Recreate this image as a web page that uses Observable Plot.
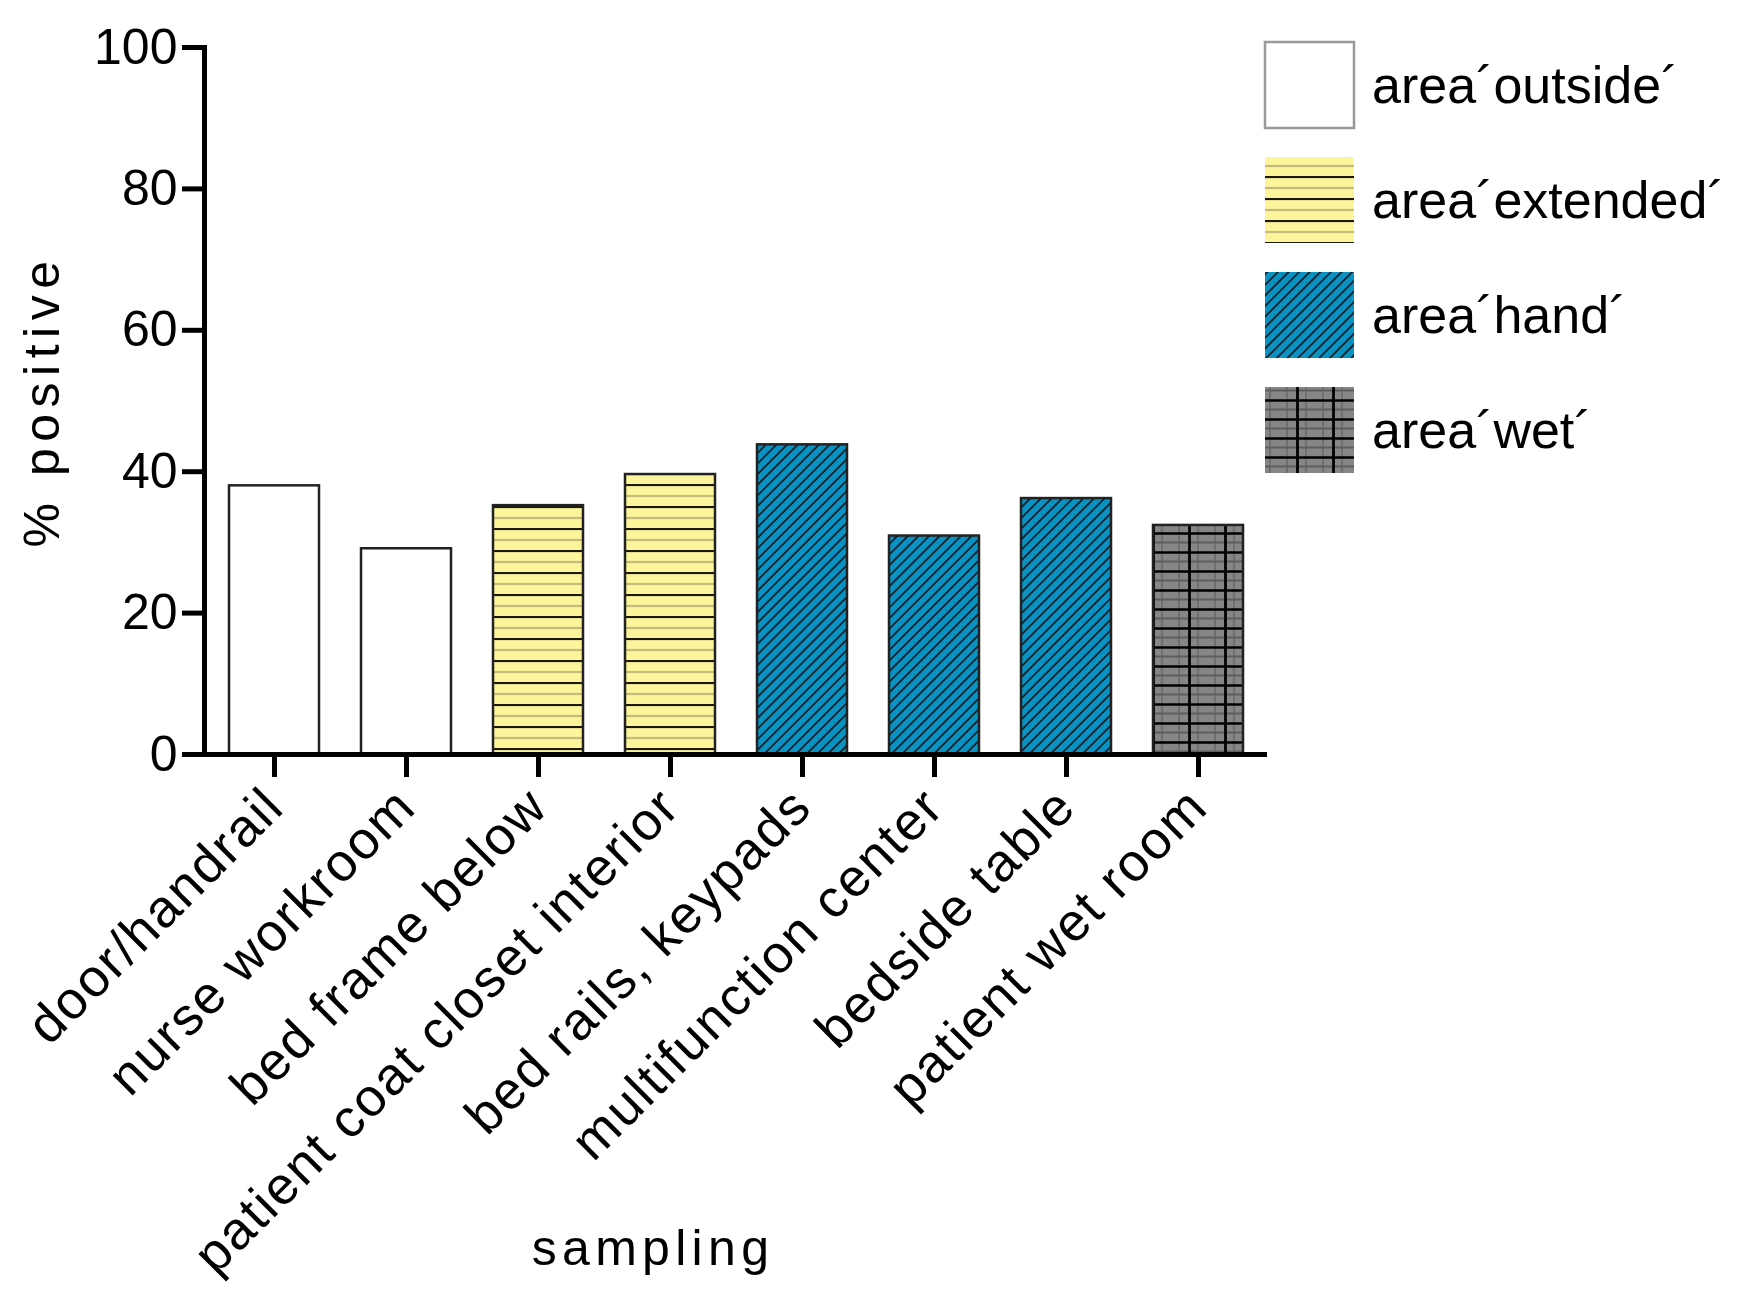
<!DOCTYPE html>
<html>
<head>
<meta charset="utf-8">
<script src="https://cdn.jsdelivr.net/npm/d3@7"></script>
<script src="https://cdn.jsdelivr.net/npm/@observablehq/plot@0.6"></script>
<style>
  html, body { margin: 0; padding: 0; background: #fff; }
  #chart { width: 1747px; height: 1308px; }
</style>
</head>
<body>
<div id="chart"></div>
<script>
// ---- data ----
const categories = [
  "door/handrail",
  "nurse workroom",
  "bed frame below",
  "patient coat closet interior",
  "bed rails, keypads",
  "multifunction center",
  "bedside table",
  "patient wet room"
];
const values = [38.0, 29.1, 35.2, 39.6, 43.8, 30.9, 36.2, 32.4];
const groups = ["outside", "outside", "extended", "extended", "hand", "hand", "hand", "wet"];
const groupNames = ["outside", "extended", "hand", "wet"];
const legendLabels = ["area´outside´", "area´extended´", "area´hand´", "area´wet´"];
const yTicks = [0, 20, 40, 60, 80, 100];
const yLabel = "% positive";
const xLabel = "sampling";

const patternIds = groupNames.map(g => "pat-" + g);
const data = categories.map((c, i) => ({category: c, value: values[i], group: groups[i]}));

const W = 1747, H = 1308;
const font = "'Liberation Sans', Arial, Helvetica, sans-serif";

const plot = Plot.plot({
  width: W,
  height: H,
  marginLeft: 204,
  marginRight: 480,
  marginTop: 47,
  marginBottom: 554,
  style: {fontFamily: font, fontSize: "50px", color: "#000", background: "#fff"},
  x: {domain: categories, paddingInner: 0.32, paddingOuter: 0.18, label: null},
  y: {domain: [0, 100], label: null},
  color: {domain: groupNames, range: patternIds.map(id => `url(#${id})`)},
  marks: [
    Plot.barY(data, {x: "category", y: "value", fill: "group", stroke: "#222", strokeWidth: 2.5}),
    Plot.ruleY([0], {stroke: "#000", strokeWidth: 5}),
    Plot.frame({anchor: "left", stroke: "#000", strokeWidth: 5}),
    Plot.axisY({ticks: yTicks, tickSize: 22, tickPadding: 5, strokeWidth: 5, fontSize: 50, label: null}),
    Plot.axisX({tickSize: 23, tickPadding: 20, strokeWidth: 5, tickRotate: -45, fontSize: 53, label: null}),
    Plot.text([yLabel], {frameAnchor: "left", textAnchor: "middle", dx: -162, rotate: -90, fontSize: 50, text: d => d}),
    Plot.text([xLabel], {frameAnchor: "bottom", textAnchor: "middle", dx: -83, dy: 510, fontSize: 50, text: d => d})
  ]
});

const svg = d3.select(plot);
// letter spacing for axis titles and x tick labels
svg.selectAll("text").each(function () {
  const t = this.textContent;
  if (t === yLabel) d3.select(this).style("letter-spacing", "6.5px");
  else if (t === xLabel) d3.select(this).style("letter-spacing", "5.3px");
  else if (categories.includes(t)) d3.select(this).style("letter-spacing", "2px");
});

// ---- pattern definitions ----
const defs = svg.insert("defs", ":first-child");
// outside: plain white
const pOut = defs.append("pattern").attr("id", "pat-outside").attr("patternUnits", "userSpaceOnUse")
  .attr("width", 10).attr("height", 10);
pOut.append("rect").attr("width", 10).attr("height", 10).attr("fill", "#fff");

// extended: pale yellow with horizontal lines
const pExt = defs.append("pattern").attr("id", "pat-extended").attr("patternUnits", "userSpaceOnUse")
  .attr("width", 20).attr("height", 22);
pExt.append("rect").attr("width", 20).attr("height", 22).attr("fill", "#fdf59c");
pExt.append("line").attr("x1", 0).attr("x2", 20).attr("y1", 1).attr("y2", 1).attr("stroke", "#1a1a10").attr("stroke-width", 2.2);
pExt.append("line").attr("x1", 0).attr("x2", 20).attr("y1", 12).attr("y2", 12).attr("stroke", "#c4bb7c").attr("stroke-width", 2.2);

// hand: blue with diagonal lines
const pHand = defs.append("pattern").attr("id", "pat-hand").attr("patternUnits", "userSpaceOnUse")
  .attr("width", 7.5).attr("height", 7.5).attr("patternTransform", "rotate(45)");
pHand.append("rect").attr("width", 7.5).attr("height", 7.5).attr("fill", "#0a92c2");
pHand.append("line").attr("x1", 1).attr("x2", 1).attr("y1", 0).attr("y2", 7.5).attr("stroke", "#0b1a22").attr("stroke-width", 1.7);

// wet: gray with grid
const pWet = defs.append("pattern").attr("id", "pat-wet").attr("patternUnits", "userSpaceOnUse")
  .attr("width", 36).attr("height", 19);
pWet.append("rect").attr("width", 36).attr("height", 19).attr("fill", "#868686");
pWet.append("line").attr("x1", 10).attr("x2", 10).attr("y1", 0).attr("y2", 19).attr("stroke", "#707070").attr("stroke-width", 2);
pWet.append("line").attr("x1", 27).attr("x2", 27).attr("y1", 0).attr("y2", 19).attr("stroke", "#707070").attr("stroke-width", 2);
pWet.append("line").attr("x1", 0).attr("x2", 36).attr("y1", 10.5).attr("y2", 10.5).attr("stroke", "#5e5e5e").attr("stroke-width", 2);
pWet.append("line").attr("x1", 1.5).attr("x2", 1.5).attr("y1", 0).attr("y2", 19).attr("stroke", "#000").attr("stroke-width", 2.8);
pWet.append("line").attr("x1", 0).attr("x2", 36).attr("y1", 1.5).attr("y2", 1.5).attr("stroke", "#000").attr("stroke-width", 2.6);

// ---- legend ----
const legend = svg.append("g").attr("class", "legend")
  .attr("font-family", font).attr("font-size", 52).attr("text-anchor", "start");
const legX = 1265, legBoxW = 89, legBoxH = 86, legTop = 42, legStep = 115;
groupNames.forEach((g, i) => {
  const y0 = legTop + i * legStep;
  legend.append("rect").attr("x", legX).attr("y", y0).attr("width", legBoxW).attr("height", legBoxH)
    .attr("fill", `url(#pat-${g})`)
    .attr("stroke", g === "outside" ? "#999" : "none").attr("stroke-width", 2.5);
  legend.append("text").attr("x", legX + legBoxW + 18).attr("y", y0 + legBoxH / 2)
    .attr("dy", "0.35em").attr("fill", "#000").attr("text-anchor", "start").text(legendLabels[i]);
});

document.getElementById("chart").appendChild(plot);
</script>
</body>
</html>
